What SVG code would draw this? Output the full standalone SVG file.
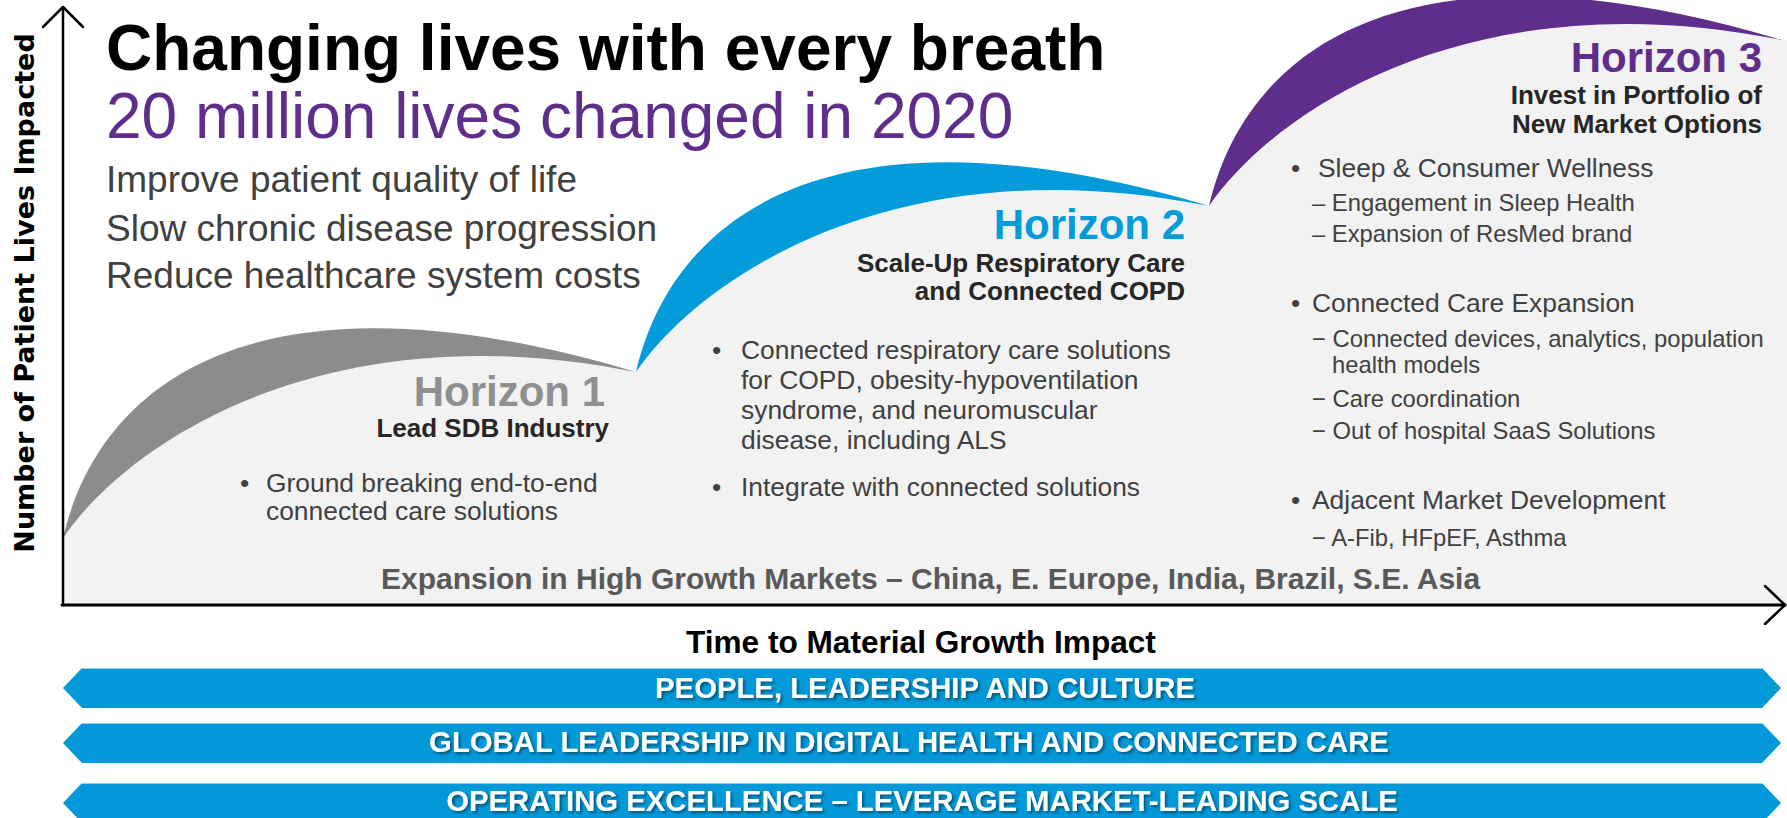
<svg xmlns="http://www.w3.org/2000/svg" width="1787" height="818" viewBox="0 0 1787 818">
  <defs>
    <style>
      text { font-family: "Liberation Sans", Arial, sans-serif; }
      .b { font-weight: bold; }
      .body { font-size: 26.4px; fill: #404040; }
      .sub { font-size: 23.8px; fill: #404040; }
      .sh26 { font-size: 26px; fill: #262626; font-weight: bold; }
      .hz { font-size: 42px; font-weight: bold; }
      .bar { fill: #0399d9; }
      .bartxt { font-size: 29.3px; font-weight: bold; fill: #ffffff; text-anchor: middle; filter: url(#sh); }
      .axis { stroke: #000; fill: none; stroke-linecap: round; stroke-linejoin: round; }
    </style>
    <filter id="sh" x="-5%" y="-30%" width="110%" height="160%">
      <feDropShadow dx="2" dy="2" stdDeviation="1.5" flood-color="#000" flood-opacity="0.45"/>
    </filter>
    <path id="cres" d="M0,0 C37,-158 197,-278 573,-166 C267,-228 67,-98 0,0 Z"/>
  </defs>

  <rect width="1787" height="818" fill="#ffffff"/>

  <!-- light background area under the curves -->
  <path id="area" d="M63,538 C130,440 330,310 636,372 C703,274 903,144 1209,206 C1276,108 1476,-22 1782,40 L1787,40 L1787,605 L63,605 Z" fill="#f2f2f2"/>

  <!-- crescents -->
  <g id="arcs">
    <use href="#cres" transform="translate(63,538)" fill="#8c8c8e"/>
    <use href="#cres" transform="translate(636,372)" fill="#039bd9"/>
    <use href="#cres" transform="translate(1209,206)" fill="#5f2d8b"/>
  </g>

  <!-- axes -->
  <g id="connectors">
    <line class="axis" x1="63" y1="8" x2="63" y2="605" stroke-width="2.5"/>
    <polyline class="axis" points="43,27 63,7 83,27" stroke-width="2.5"/>
    <line class="axis" x1="62" y1="605" x2="1785" y2="605" stroke-width="3"/>
    <polyline class="axis" points="1765,586 1785,605 1765,624" stroke-width="2.5"/>
  </g>

  <g id="ylabel">
    <text transform="translate(34,293) rotate(-90)" text-anchor="middle" style="font-family:'DejaVu Sans',Verdana,sans-serif;font-weight:bold;font-size:27px;fill:#000">Number of Patient Lives Impacted</text>
  </g>

  <g id="title">
    <text x="106" y="70" class="b" style="font-size:64px;fill:#000">Changing lives with every breath</text>
    <text x="106" y="138" style="font-size:64px;fill:#5f2d8b">20 million lives changed in 2020</text>
    <text x="106" y="192" style="font-size:37px;fill:#404040">Improve patient quality of life</text>
    <text x="106" y="241" style="font-size:37px;fill:#404040">Slow chronic disease progression</text>
    <text x="106" y="288" style="font-size:37px;fill:#404040">Reduce healthcare system costs</text>
  </g>

  <g id="horizon1">
    <text x="605" y="406" class="hz" text-anchor="end" fill="#8f8f8f">Horizon 1</text>
    <text x="609" y="437" class="sh26" text-anchor="end">Lead SDB Industry</text>
    <text x="240" y="492" class="body">•</text>
    <text x="266" y="492" class="body">Ground breaking end-to-end</text>
    <text x="266" y="520" class="body">connected care solutions</text>
  </g>

  <g id="horizon2">
    <text x="1185" y="239" class="hz" text-anchor="end" fill="#039bd9">Horizon 2</text>
    <text x="1185" y="272" class="sh26" text-anchor="end">Scale-Up Respiratory Care</text>
    <text x="1185" y="300" class="sh26" text-anchor="end">and Connected COPD</text>
    <text x="712" y="359" class="body">•</text>
    <text x="741" y="359" class="body">Connected respiratory care solutions</text>
    <text x="741" y="389" class="body">for COPD, obesity-hypoventilation</text>
    <text x="741" y="419" class="body">syndrome, and neuromuscular</text>
    <text x="741" y="449" class="body">disease, including ALS</text>
    <text x="712" y="496" class="body">•</text>
    <text x="741" y="496" class="body">Integrate with connected solutions</text>
  </g>

  <g id="horizon3">
    <text x="1762" y="72" class="hz" text-anchor="end" fill="#5f2d8b">Horizon 3</text>
    <text x="1762" y="104" class="sh26" text-anchor="end">Invest in Portfolio of</text>
    <text x="1762" y="133" class="sh26" text-anchor="end">New Market Options</text>
    <text x="1291" y="177" class="body">•</text>
    <text x="1318" y="177" class="body">Sleep &amp; Consumer Wellness</text>
    <text x="1312" y="211" class="sub">– Engagement in Sleep Health</text>
    <text x="1312" y="242" class="sub">– Expansion of ResMed brand</text>
    <text x="1291" y="312" class="body">•</text>
    <text x="1312" y="312" class="body">Connected Care Expansion</text>
    <text x="1312" y="347" class="sub">− Connected devices, analytics, population</text>
    <text x="1332" y="373" class="sub">health models</text>
    <text x="1312" y="407" class="sub">− Care coordination</text>
    <text x="1312" y="439" class="sub">− Out of hospital SaaS Solutions</text>
    <text x="1291" y="509" class="body">•</text>
    <text x="1312" y="509" class="body">Adjacent Market Development</text>
    <text x="1312" y="546" class="sub">− A-Fib, HFpEF, Asthma</text>
  </g>

  <g id="expansion">
    <text x="381" y="589" class="b" style="font-size:30px;fill:#595959">Expansion in High Growth Markets – China, E. Europe, India, Brazil, S.E. Asia</text>
  </g>

  <g id="xlabel">
    <text x="686" y="653" class="b" style="font-size:31.6px;fill:#000">Time to Material Growth Impact</text>
  </g>

  <g id="banner1">
    <polygon class="bar" points="63,688 82,668 1762,668 1781,688 1762,708 82,708"/>
    <line x1="82" y1="668.5" x2="1762" y2="668.5" stroke="#8fd0ee" stroke-width="1"/>
    <text x="925" y="698" class="bartxt">PEOPLE, LEADERSHIP AND CULTURE</text>
  </g>
  <g id="banner2">
    <polygon class="bar" points="63,743 82,723 1762,723 1781,743 1762,763 82,763"/>
    <line x1="82" y1="723.5" x2="1762" y2="723.5" stroke="#8fd0ee" stroke-width="1"/>
    <text x="909" y="752" class="bartxt">GLOBAL LEADERSHIP IN DIGITAL HEALTH AND CONNECTED CARE</text>
  </g>
  <g id="banner3">
    <polygon class="bar" points="63,803 82,783 1762,783 1781,803 1762,823 82,823"/>
    <line x1="82" y1="783.5" x2="1762" y2="783.5" stroke="#8fd0ee" stroke-width="1"/>
    <text x="922" y="811" class="bartxt">OPERATING EXCELLENCE – LEVERAGE MARKET-LEADING SCALE</text>
  </g>
</svg>
